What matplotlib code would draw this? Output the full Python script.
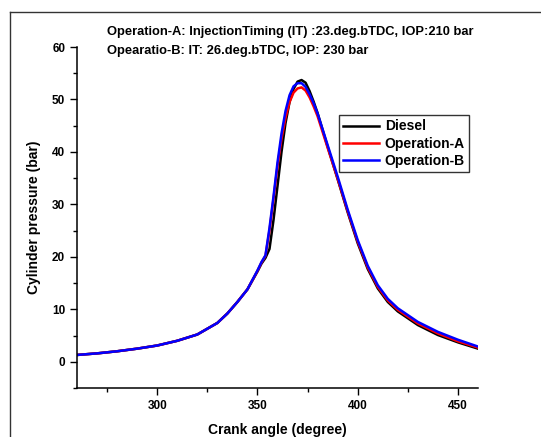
"""Cylinder pressure vs crank angle for diesel and two operating modes"""

import matplotlib
matplotlib.use("Agg")
import matplotlib.pyplot as plt
from matplotlib.lines import Line2D
from matplotlib.ticker import MultipleLocator

plt.rcParams["font.family"] = ["Liberation Sans", "DejaVu Sans"]
plt.rcParams["font.weight"] = "bold"

# crank angle (degree)
angle = [260, 270, 280, 290, 300, 310, 320, 330, 335, 340, 345, 350,
         352, 354, 356, 358, 360, 362, 364, 366, 368, 370, 372, 374,
         376, 378, 380, 385, 390, 395, 400, 405, 410, 415, 420, 430,
         440, 450, 460]

diesel = [1.3, 1.6, 2.0, 2.5, 3.1, 4.0, 5.2, 7.4, 9.2, 11.4, 13.8, 17.2,
          18.7, 19.8, 21.5, 27.0, 33.5, 40.0, 45.5, 49.5, 52.0, 53.4, 53.7, 53.2,
          51.6, 49.6, 47.4, 41.0, 34.8, 28.5, 22.6, 17.7, 14.0, 11.4, 9.6, 7.0,
          5.1, 3.7, 2.5]

operation_a = [1.3, 1.6, 2.0, 2.5, 3.1, 4.0, 5.2, 7.4, 9.2, 11.4, 13.8, 17.3,
               18.9, 20.2, 25.0, 31.0, 37.3, 42.5, 46.5, 49.5, 51.3, 52.1, 52.3, 51.7,
               50.4, 48.7, 46.8, 40.8, 34.9, 28.7, 22.9, 18.0, 14.3, 11.7, 9.9, 7.3,
               5.4, 3.9, 2.7]

operation_b = [1.3, 1.6, 2.0, 2.5, 3.1, 4.0, 5.2, 7.4, 9.2, 11.4, 13.8, 17.4,
               19.0, 20.3, 25.5, 31.5, 38.0, 43.5, 47.8, 50.8, 52.5, 53.1, 53.1, 52.4,
               51.0, 49.3, 47.3, 41.3, 35.3, 29.0, 23.2, 18.3, 14.6, 12.0, 10.2, 7.6,
               5.7, 4.2, 2.9]

series_names = ["Diesel", "Operation-A", "Operation-B"]
series_colors = ["black", "red", "blue"]

fig = plt.figure(figsize=(5.41, 4.37), dpi=100)

# outer frame of the original screenshot
fig.add_artist(Line2D([10 / 541, 1.0], [1 - 12 / 437, 1 - 12 / 437],
                      transform=fig.transFigure, color="#333333", lw=1.0))
fig.add_artist(Line2D([10 / 541, 10 / 541], [0.0, 1 - 12 / 437],
                      transform=fig.transFigure, color="#333333", lw=1.0))

ax = fig.add_axes([77 / 541, 1 - 388 / 437, 401 / 541, 341 / 437])

for values, name, color in zip([diesel, operation_a, operation_b],
                               series_names, series_colors):
    ax.plot(angle, values, color=color, lw=1.8, label=name)

ax.set_xlim(260, 460)
ax.set_ylim(-5, 60)
ax.xaxis.set_major_locator(MultipleLocator(50))
ax.xaxis.set_minor_locator(MultipleLocator(25))
ax.yaxis.set_major_locator(MultipleLocator(10))
ax.yaxis.set_minor_locator(MultipleLocator(5))

for side in ["top", "right"]:
    ax.spines[side].set_visible(False)
for side in ["left", "bottom"]:
    ax.spines[side].set_linewidth(1.1)

ax.tick_params(which="major", direction="out", length=5, width=1.0,
               labelsize=8.5)
ax.tick_params(which="minor", direction="out", length=3, width=1.0)
for label in ax.get_xticklabels() + ax.get_yticklabels():
    label.set_fontweight("bold")

ax.set_xlabel("Crank angle (degree)", fontsize=10, fontweight="bold",
              labelpad=8)
ax.set_ylabel("Cylinder pressure (bar)", fontsize=10, fontweight="bold",
              labelpad=8)

fig.text(107 / 541, 1 - 32 / 437,
         "Operation-A: InjectionTiming (IT) :23.deg.bTDC, IOP:210 bar",
         fontsize=9.3, fontweight="bold", va="center", ha="left")
fig.text(107 / 541, 1 - 51 / 437,
         "Opearatio-B: IT: 26.deg.bTDC, IOP: 230 bar",
         fontsize=9.3, fontweight="bold", va="center", ha="left")

leg = ax.legend(loc="upper left", bbox_to_anchor=(0.653, 0.80),
                borderaxespad=0, fancybox=False, frameon=True,
                handlelength=2.6, handletextpad=0.4, borderpad=0.3,
                labelspacing=0.25, prop={"size": 10, "weight": "bold"})
leg.get_frame().set_edgecolor("black")
leg.get_frame().set_linewidth(1.0)

fig.savefig("out.png", dpi=100)
